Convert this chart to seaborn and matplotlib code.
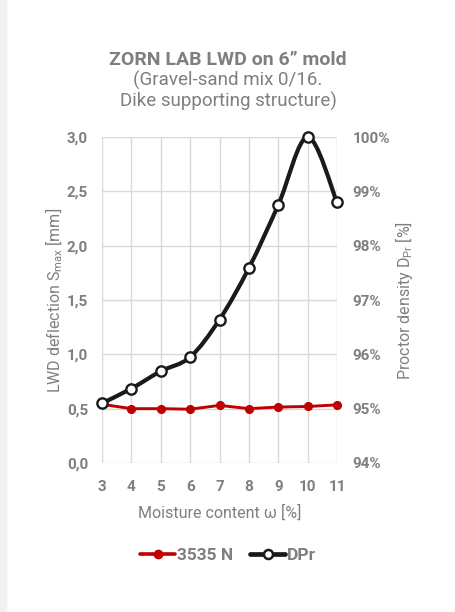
import numpy as np
import pandas as pd
import matplotlib
matplotlib.use("Agg")
import matplotlib.pyplot as plt
import seaborn as sns
from matplotlib.path import Path
from matplotlib.patches import PathPatch, Rectangle
from matplotlib.lines import Line2D
from matplotlib.ticker import FuncFormatter, MultipleLocator

moisture = [3, 4, 5, 6, 7, 8, 9, 10, 11]
deflection_3535n = [0.54, 0.50, 0.50, 0.495, 0.53, 0.50, 0.515, 0.52, 0.535]
proctor_dpr = [95.10, 95.37, 95.69, 95.95, 96.64, 97.59, 98.75, 100.0, 98.80]

TXT = "#7f7f7f"
RED = "#c00000"
BLK = "#1a1a1a"

sns.set_theme(style="white")
plt.rcParams["font.family"] = ["Roboto", "DejaVu Sans"]

df = pd.DataFrame({"w": moisture, "s": deflection_3535n, "d": proctor_dpr})

fig = plt.figure(figsize=(4.56, 6.12), dpi=100, facecolor="white")
fig.patches.append(Rectangle((0, 0), 0.014, 1, transform=fig.transFigure,
                             color="#f2f2f2", zorder=0))
ax = fig.add_axes([0.2237, 0.2435, 0.5154, 0.5325])
ax2 = ax.twinx()

# left axis: LWD deflection
sns.lineplot(data=df, x="w", y="s", ax=ax, color=RED, linewidth=2.1,
             marker="o", markersize=5.8, markeredgecolor=RED, markerfacecolor=RED,
             zorder=3, clip_on=False)

# right axis: Proctor density, smoothed like Excel
xs = np.array(moisture, dtype=float)
ys = np.array(proctor_dpr, dtype=float)
verts = [(xs[0], ys[0])]
codes = [Path.MOVETO]
n = len(xs)
for i in range(n - 1):
    p0 = (xs[max(i - 1, 0)], ys[max(i - 1, 0)])
    p1 = (xs[i], ys[i])
    p2 = (xs[i + 1], ys[i + 1])
    p3 = (xs[min(i + 2, n - 1)], ys[min(i + 2, n - 1)])
    c1 = (p1[0] + (p2[0] - p0[0]) / 6, p1[1] + (p2[1] - p0[1]) / 6)
    c2 = (p2[0] - (p3[0] - p1[0]) / 6, p2[1] - (p3[1] - p1[1]) / 6)
    verts += [c1, c2, p2]
    codes += [Path.CURVE4] * 3
ax2.add_patch(PathPatch(Path(verts, codes), facecolor="none", edgecolor=BLK,
                        linewidth=3.0, capstyle="round", joinstyle="round",
                        zorder=3, clip_on=False))
sns.scatterplot(data=df, x="w", y="d", ax=ax2, s=55, color="white",
                edgecolor=BLK, linewidth=1.7, zorder=4, legend=False, clip_on=False)

ax.set_xlim(3, 11)
ax.set_ylim(0, 3)
ax2.set_ylim(94, 100)
ax.set_xticks(moisture)
ax.yaxis.set_major_locator(MultipleLocator(0.5))
ax2.yaxis.set_major_locator(MultipleLocator(1))
ax.yaxis.set_major_formatter(FuncFormatter(lambda v, p: f"{v:.1f}".replace(".", ",")))
ax2.yaxis.set_major_formatter(FuncFormatter(lambda v, p: f"{v:.0f}%"))

ax.grid(True, color="#d9d9d9", linewidth=1)
for a in (ax, ax2):
    for s in a.spines.values():
        s.set_visible(False)
    a.tick_params(length=0, labelsize=11, labelcolor=TXT)
    for lbl in a.get_xticklabels() + a.get_yticklabels():
        lbl.set_fontweight("bold")
ax.tick_params(axis="x", pad=12)
ax.tick_params(axis="y", pad=10)
ax2.tick_params(axis="y", pad=11)

ax.set_xlabel("Moisture content ω [%]", fontsize=11.5, color=TXT, labelpad=8)
ax.set_ylabel("LWD deflection S$_\\mathregular{max}$ [mm]", fontsize=11.5, color=TXT, labelpad=1)
ax2.set_ylabel("Proctor density D$_\\mathregular{Pr}$ [%]", fontsize=11.5, color=TXT, labelpad=2)

fig.text(0.5, 0.902, "ZORN LAB LWD on 6\u201d mold", ha="center", va="center",
         fontsize=14, fontweight="bold", color=TXT)
fig.text(0.5, 0.851, "(Gravel-sand mix 0/16.\nDike supporting structure)", ha="center",
         va="center", fontsize=13.5, color=TXT, linespacing=1.15)

handles = [
    Line2D([], [], color=RED, linewidth=2.6, marker="o", markersize=6,
           markerfacecolor=RED, markeredgecolor=RED),
    Line2D([], [], color=BLK, linewidth=3.4, marker="o", markersize=6.5,
           markerfacecolor="white", markeredgecolor=BLK, markeredgewidth=1.8),
]
leg = fig.legend(handles, ["3535 N", "DPr"], loc="center", bbox_to_anchor=(0.5, 0.092),
                 ncol=2, frameon=False, handlelength=2.0, handletextpad=0.1,
                 columnspacing=1.0, prop={"weight": "bold", "size": 12.5})
for t in leg.get_texts():
    t.set_color(TXT)

fig.savefig("out.png", dpi=100, facecolor="white")
